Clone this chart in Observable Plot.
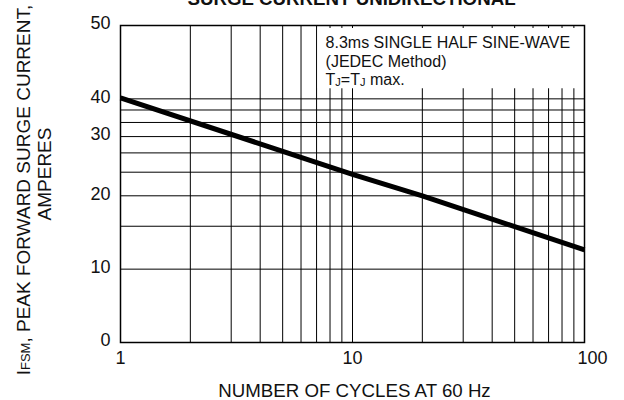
<!DOCTYPE html>
<html><head><meta charset="utf-8">
<script src="https://cdn.jsdelivr.net/npm/d3@7"></script>
<script src="https://cdn.jsdelivr.net/npm/@observablehq/plot@0.6"></script>
<style>body{margin:0;background:#fff}</style>
</head><body><div id="chart"></div>
<script>
// ---- data ----
const title = "SURGE CURRENT UNIDIRECTIONAL";
const xLabel = "NUMBER OF CYCLES AT 60 Hz";
const yLabel1 = "IFSM, PEAK FORWARD SURGE CURRENT,";
const yLabel2 = "AMPERES";
const noteLines = ["8.3ms SINGLE HALF SINE-WAVE", "(JEDEC Method)", "TJ=TJ max."];

const cycles = [1, 10, 20, 100];
const surgeAmps = [101, 49, 40, 24];

const xGrid = [2, 3, 4, 5, 6, 7, 8, 9, 10, 20, 30, 40, 50, 60, 70, 80, 90];
const yGrid = [20, 30, 40, 50, 60, 70, 80, 90, 100];
const xTickValues = [1, 10, 100];
const xTickLabels = ["1", "10", "100"];
const yTickValues = [10, 20, 40, 70, 100, 200];
const yTickLabels = ["0", "10", "20", "30", "40", "50"];
const noteBox = [{x1: 7, x2: 100, y1: 110, y2: 200}];

const curve = cycles.map((c, i) => ({cycles: c, amps: surgeAmps[i]}));
const xFmt = d => xTickLabels[xTickValues.indexOf(d)];
const yFmt = d => yTickLabels[yTickValues.indexOf(d)];
const ink = "#111";

const chart = Plot.plot({
  width: 624,
  height: 400,
  marginLeft: 120,
  marginRight: 40,
  marginTop: 25,
  marginBottom: 58,
  style: {fontFamily: "'Liberation Sans', Arial, sans-serif", fontSize: "18px", color: ink, background: "#fff"},
  x: {type: "log", domain: [1, 100]},
  y: {type: "log", domain: [10, 200]},
  marks: [
    Plot.ruleX(xGrid, {stroke: "#000", strokeWidth: 1}),
    Plot.ruleY(yGrid, {stroke: "#000", strokeWidth: 1}),
    Plot.rect(noteBox, {x1: "x1", x2: "x2", y1: "y1", y2: "y2", fill: "#fff", insetLeft: 1.5, insetTop: 3, insetRight: 1}),
    Plot.line(curve, {x: "cycles", y: "amps", stroke: "#000", strokeWidth: 5, strokeLinecap: "butt"}),
    Plot.frame({stroke: "#000", strokeWidth: 1.5}),
    Plot.axisX({ticks: xTickValues.slice(0, 2), tickFormat: xFmt, tickSize: 0, tickPadding: 9, label: null, fill: ink}),
    Plot.axisX({ticks: xTickValues.slice(2), tickFormat: xFmt, tickSize: 0, tickPadding: 9, dx: 8, label: null, fill: ink}),
    Plot.axisY({ticks: yTickValues, tickFormat: yFmt, tickSize: 0, tickPadding: 10, dy: -2, label: null, fill: ink}),
    Plot.text([title], {frameAnchor: "top", lineAnchor: "bottom", dy: -21, dx: -1, fontWeight: "bold", fontSize: 18.7, fill: ink}),
    Plot.text([xLabel], {frameAnchor: "bottom", lineAnchor: "top", dy: 41, dx: 2, fontSize: 18.7, fill: ink}),
    Plot.text([yLabel1], {frameAnchor: "left", rotate: -90, textAnchor: "middle", lineAnchor: "middle", dx: -97, dy: 6, fontSize: 19, fill: ink}),
    Plot.text([yLabel2], {frameAnchor: "left", rotate: -90, textAnchor: "middle", lineAnchor: "middle", dx: -76, dy: -10, fontSize: 19, fill: ink}),
    Plot.text([noteLines.join("\n")], {x: () => noteBox[0].x1, y: () => noteBox[0].y2, textAnchor: "start", lineAnchor: "top", dx: 9, dy: 9, fontSize: 16, lineHeight: 1.17, fill: ink})
  ]
});
document.getElementById("chart").appendChild(chart);

// subscripts (small letters), applied to the texts Plot drew
const texts = Array.from(chart.querySelectorAll("text"));
const yl = texts.find(t => t.textContent === yLabel1);
if (yl) {
  const s = d3.select(yl);
  s.text("");
  s.append("tspan").text("I");
  s.append("tspan").attr("font-size", "13px").text("FSM");
  s.append("tspan").text(", PEAK FORWARD SURGE CURRENT,");
}
const noteT = texts.find(t => t.textContent.startsWith("8.3ms"));
if (noteT) {
  const spans = noteT.querySelectorAll("tspan");
  const last = d3.select(spans.length ? spans[spans.length - 1] : noteT);
  last.text("");
  last.append("tspan").text("T");
  last.append("tspan").attr("font-size", "11px").attr("dy", 1).text("J");
  last.append("tspan").attr("dy", -1).text("=T");
  last.append("tspan").attr("font-size", "11px").attr("dy", 1).text("J");
  last.append("tspan").attr("dy", -1).text(" max.");
}
</script></body></html>
